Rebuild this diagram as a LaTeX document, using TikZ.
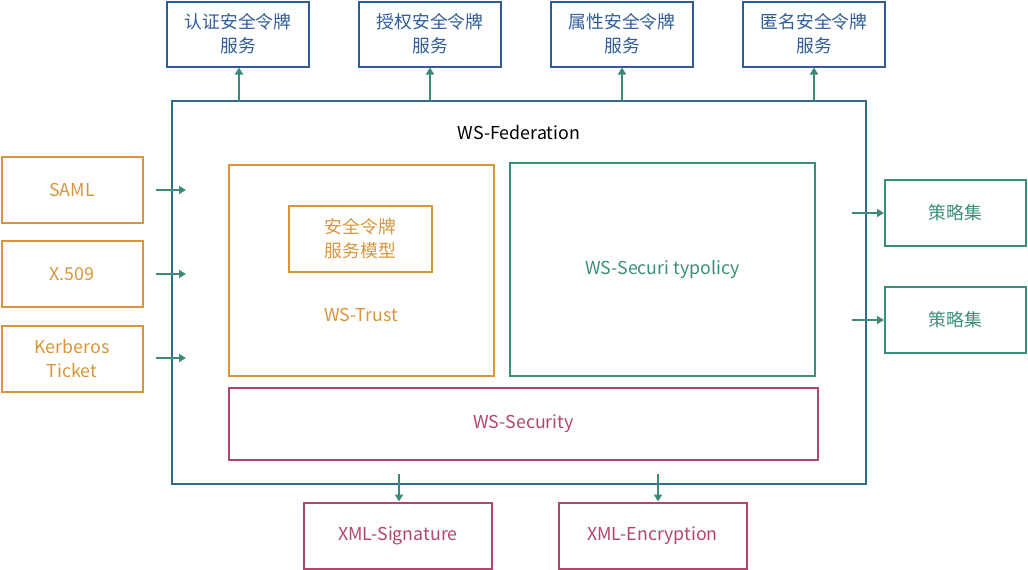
\documentclass[tikz,border=0pt]{standalone}
\usepackage{fontspec}
\setmainfont{Noto Sans CJK SC}
\usetikzlibrary{arrows.meta}
\definecolor{fedblue}{HTML}{2F6A8C}
\definecolor{topblue}{HTML}{2E5C9A}
\definecolor{orng}{HTML}{D8953A}
\definecolor{teal}{HTML}{3A8F7A}
\definecolor{mag}{HTML}{B5446E}
\definecolor{arr}{HTML}{3D8A78}
\begin{document}
\begin{tikzpicture}[x=1pt,y=-1pt,
  fnt/.style={font=\fontsize{17.8}{24}\selectfont},
  bx/.style={draw, line width=2pt, inner sep=0pt, fnt, align=center},
  topbox/.style={bx, draw=topblue, text=topblue, minimum width=142pt, minimum height=65pt},
  leftbox/.style={bx, draw=orng, text=orng, minimum width=141pt, minimum height=66pt},
  rightbox/.style={bx, draw=teal, text=teal, minimum width=141pt, minimum height=66pt},
  botbox/.style={bx, draw=mag, text=mag, minimum width=188pt, minimum height=66pt},
  conn/.style={draw=arr, line width=2pt, -{Triangle[length=7pt,width=8pt]}}]
\useasboundingbox (0,0) rectangle (1028,570);
% top boxes
\node[topbox] (t1) at (238,34) {认证安全令牌\\服务};
\node[topbox] (t2) at (430,34) {授权安全令牌\\服务};
\node[topbox] (t3) at (622,34) {属性安全令牌\\服务};
\node[topbox] (t4) at (814,34) {匿名安全令牌\\服务};
% federation frame
\node[draw=fedblue, line width=2pt, minimum width=694pt, minimum height=383pt, inner sep=0pt] (fed) at (519,292.5) {};
\node[fnt, text=black] (fedl) at (519,133) {WS-Federation};
% WS-Trust
\node[draw=orng, line width=2pt, minimum width=265pt, minimum height=211pt, inner sep=0pt] (trust) at (361.5,270.5) {};
\node[bx, draw=orng, text=orng, minimum width=143pt, minimum height=66pt] (stsm) at (360.5,239) {安全令牌\\服务模型};
\node[fnt, text=orng] (trustl) at (361,315) {WS-Trust};
% WS-SecurityPolicy
\node[bx, draw=teal, text=teal, minimum width=305pt, minimum height=213pt] (pol) at (662.5,269.5) {WS-Securi typolicy};
% WS-Security
\node[bx, draw=mag, text=mag, minimum width=589pt, minimum height=72pt] (sec) at (523.5,424) {WS-Security};
% left boxes
\node[leftbox] (saml) at (72,190) {SAML};
\node[leftbox] (x509) at (72,274) {X.509};
\node[leftbox] (kerb) at (72,358.5) {Kerberos\\Ticket};
% right boxes
\node[rightbox] (r1) at (955.5,213) {策略集};
\node[rightbox] (r2) at (955.5,320) {策略集};
% bottom boxes
\node[botbox] (b1) at (398,535.5) {XML-Signature};
\node[botbox] (b2) at (652.5,535.5) {XML-Encryption};
% connectors
\foreach \t/\x in {t1/239,t2/430,t3/622,t4/814}{
  \coordinate (s\t) at (\x,101);
  \draw[conn] (s\t) -- (\t.south -| s\t);
}
\foreach \n/\y in {saml/190,x509/274,kerb/358}{
  \coordinate (s\n) at (156,\y);
  \coordinate (e\n) at (186,\y);
  \draw[conn] (s\n) -- (e\n);
}
\foreach \n/\y in {r1/213,r2/320}{
  \coordinate (s\n) at (852,\y);
  \draw[conn] (s\n) -- (\n.west |- s\n);
}
\coordinate (sb1) at (399,474);
\coordinate (sb2) at (658,474);
\draw[conn] (sb1) -- (b1.north -| sb1);
\draw[conn] (sb2) -- (b2.north -| sb2);
\end{tikzpicture}
\end{document}
